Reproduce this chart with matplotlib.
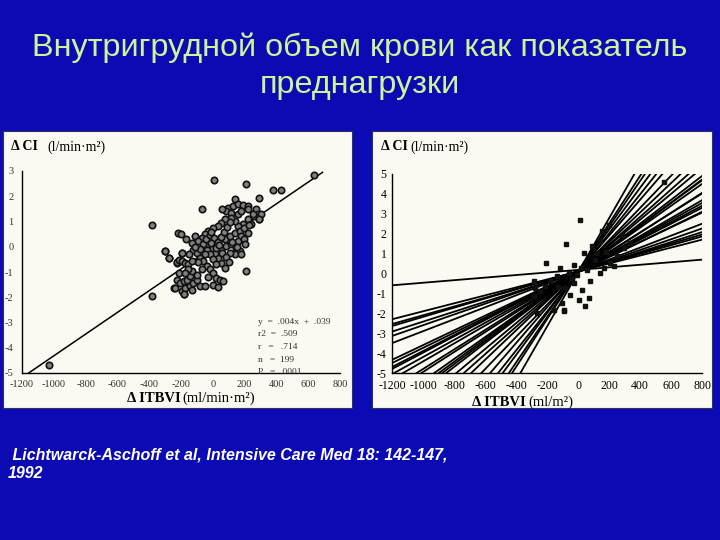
import numpy as np
import matplotlib.pyplot as plt
from matplotlib.patches import Rectangle

plt.rcParams['axes.unicode_minus'] = False

# --- data ---
title_lines = ["Внутригрудной объем крови как показатель", "преднагрузки"]
citation_lines = [" Lichtwarck-Aschoff et al, Intensive Care Med 18: 142-147,", "1992"]

left_xticks = [-1200, -1000, -800, -600, -400, -200, 0, 200, 400, 600, 800]
left_yticks = [-5, -4, -3, -2, -1, 0, 1, 2, 3]
right_xticks = [-1200, -1000, -800, -600, -400, -200, 0, 200, 400, 600, 800]
right_yticks = [-5, -4, -3, -2, -1, 0, 1, 2, 3, 4, 5]

# left panel: ITBVI change vs CI change (single pooled regression)
itbvi = [635, 8, 209, 381, 427, 292, 137, -66, -383, 209, -383, -1030, -303, -278,
         -220, -199, -195, -226, -247, -184,
         95, 126, 157, 188, 219, 85, 116, 157, 178, 219, 271, 282, 292, 261, 219, 188,
         157, 137, 116, 75, 54, 33, 2, -29, -50, -70, -112, -91, -132, -122, -101, -81,
         -60, -39, -19, 2, 23, 43, 64, 75, 54, 33, 12, -8, -29, -39, -19, 2, 23, 54, 85,
         116, 147, 168, 137, 106, 75, 106, 137, 168, 199, 178, 157, 199, 219,
         -298, -278, -226, -195, -215, -195, -174, -153, -215, -226, -205, -184, -164,
         -143, -132, -153, -174, -236, -195, -174, -143, -122, -101, -81, -50, -132, -184,
         -60, -40, -20, 10, 30, 50, 70, 90, -80, -50, -10, 20, 40, 60, 80, 100, -110, -90,
         -70, -30, 0, 30, -150, -170, 120, 150, 180, 200, 240, 250, -100, -130, -10, 110,
         300, 290, 230, 60]
delta_ci = [2.83, 2.65, 2.48, 2.26, 2.26, 1.95, 1.88, 1.48, 0.86, -0.97, -1.96, -4.68, -0.15, -0.46,
            0.56, 0.49, -0.24, -0.64, -1.63, -1.89,
            1.55, 1.62, 1.68, 1.64, 1.62, 1.42, 1.35, 1.28, 1.42, 1.48, 1.48, 1.28, 1.09, 1.22, 1.09, 0.89,
            0.82, 1.02, 1.15, 1.09, 0.95, 0.82, 0.75, 0.62, 0.49, 0.36, 0.42, 0.22, 0.16, -0.11, -0.24, -0.44,
            -0.57, -0.77, -0.90, -1.03, -1.23, -1.30, -1.36, -0.83, -0.64, -0.44, -0.24, -0.04, 0.09, -0.11, -0.30, -0.50, -0.70, -0.11, 0.03,
            0.09, -0.04, -0.17, -0.30, -0.24, 0.29, 0.42, 0.56, 0.62, 0.75, 0.42, 0.22, 0.29, 0.56,
            -0.15, -0.44, -0.61, -0.24, -0.53, -0.57, -0.64, -0.70, -1.03, -1.30, -1.43, -1.36, -1.30,
            -1.17, -0.97, -0.90, -1.03, -1.63, -1.76, -1.63, -1.56, -1.43, -1.30, -1.56, -1.56, -1.70, -1.89,
            0.10, 0.30, 0.45, 0.35, 0.20, 0.40, 0.60, 0.80, -0.10, -0.30, 0.15, -0.05, 0.05, -0.25, -0.40, -0.60, 0.00, -0.60,
            -0.90, -1.20, -1.50, -1.60, -0.30, 0.30, 0.20, 0.00, -0.30, 0.10, 0.90, 1.30, -1.10, -0.55, 0.60, 1.00,
            1.30, 1.10, 0.85, 1.50]
fit_slope = 0.0043
fit_intercept = -0.02
fit_x = [-1160, 690]
stats_lines = ["y  =  .004x  +  .039", "r2  =  .509", "r   =   .714", "n   =  199", "P   =  .0001"]

# right panel: individual patient regressions
line_slopes = [0.000645, 0.0020, 0.0022, 0.0023, 0.0025, 0.0027, 0.0030, 0.0037, 0.0038,
               0.0040, 0.0041, 0.0043, 0.0045, 0.0049, 0.0050, 0.0055, 0.0057, 0.0058,
               0.0060, 0.0065, 0.0069, 0.0074, 0.0081, 0.0090, 0.0098, 0.0105, 0.0114,
               0.0120, 0.0136]
line_intercepts = [0.18, 0.10, 0.10, 0.12, 0.08, 0.10, 0.10, 0.10, 0.06, 0.10, 0.12, 0.10, 0.08,
                   0.10, 0.05, 0.10, 0.12, 0.08, 0.10, 0.10, 0.08, 0.10, 0.05, 0.10, 0.05,
                   0.10, 0.08, 0.10, 0.05]
line_x = [-1200, 800]
pts_x = [10, -75, -204, -92, 4, 68, 26, -28, 79, -103, -157, -275, 144, 90, 36, 122, 197, 155,
         -28, -114, -61, -135, -179, -211, -243, -286, -82, -50, 47, 144, 165, 208, 251, 294,
         337, 284, 553, -286, -265, -92, -40, 20, 60, 110, -130, -5, 180, 230]
pts_y = [2.70, 1.48, 0.53, -1.82, -1.32, -1.23, -0.81, -0.48, -0.40, -1.48, -1.82, -0.73, 1.61,
         1.36, 1.03, 1.03, 2.45, 2.12, 0.44, 0.28, 0.02, -0.15, -0.40, -0.65, -0.90, -1.15, -0.73,
         -1.07, -1.65, 0.02, 0.28, 0.53, 0.86, 1.28, 1.53, 1.95, 4.60, -0.40, -1.98, -1.87, -0.30,
         0.30, 0.20, 0.70, -0.70, -0.10, 1.10, 0.40]

bg = '#0C0AB2'
panel = '#FAFAF2'
serif = 'Liberation Serif'

fig = plt.figure(figsize=(7.2, 5.4), dpi=100)
fig.patch.set_facecolor(bg)

def px(x, y):
    # pixel position (top-left origin) -> figure fraction
    return x / 720, 1 - y / 540

# white panels behind the two scanned graphs
for (x0, y0, x1, y1) in [(3, 131, 352, 408), (372, 131, 712, 408)]:
    fig.patches.append(Rectangle(px(x0, y1), (x1 - x0) / 720, (y1 - y0) / 540,
                                 transform=fig.transFigure, facecolor=panel,
                                 edgecolor='#333355', linewidth=0.8, zorder=-5))

# title
for i, line in enumerate(title_lines):
    fig.text(0.5, 1 - (56 + 37 * i) / 540, line, ha='center', va='baseline',
             fontsize=23.3, color='#CCF59A', family='Liberation Sans')

# citation
fig.text(*px(8, 460), citation_lines[0], ha='left', va='baseline', fontsize=11.5,
         color='white', family='Liberation Sans', weight='bold', style='italic')
fig.text(*px(8, 478), citation_lines[1], ha='left', va='baseline', fontsize=11.5,
         color='white', family='Liberation Sans', weight='bold', style='italic')

def style_axes(ax, xt, yt, fs, col):
    ax.set_facecolor('none')
    for s in ['top', 'right']:
        ax.spines[s].set_visible(False)
    for s in ['left', 'bottom']:
        ax.spines[s].set_linewidth(1.0)
        ax.spines[s].set_color('black')
    ax.set_xticks(xt)
    ax.set_yticks(yt)
    ax.tick_params(length=0, labelsize=fs, labelcolor=col)
    ax.tick_params(axis='x', pad=5)
    ax.tick_params(axis='y', pad=6)
    for lab in ax.get_xticklabels() + ax.get_yticklabels():
        lab.set_family(serif)

# --- left panel ---
ax1 = fig.add_axes([22 / 720, 1 - 373 / 540, 318 / 720, 202 / 540])
ax1.set_xlim(-1200, 800)
ax1.set_ylim(-5, 3)
fx = np.array(fit_x)
ax1.plot(fx, fit_slope * fx + fit_intercept, color='black', lw=1.1, zorder=2)
ax1.plot(itbvi, delta_ci, 'o', ms=4.6, mfc='#808080', mec='#111111', mew=1.2, zorder=3)
style_axes(ax1, left_xticks, left_yticks, 7.5, '#333333')
for i, s in enumerate(stats_lines):
    fig.text(*px(258, 322 + 12.5 * i), s, fontsize=6.8, family=serif, color='#333333',
             va='center', ha='left')

fig.text(*px(11, 147), 'Δ CI', fontsize=10, family=serif, weight='bold', va='center')
fig.text(*px(47, 147), '(l/min·m²)', fontsize=10, family=serif, va='center')
fig.text(*px(127, 398), 'Δ ITBVI', fontsize=10.5, family=serif, weight='bold', va='center')
fig.text(*px(182, 398), '(ml/min·m²)', fontsize=10.5, family=serif, va='center')

# --- right panel ---
ax2 = fig.add_axes([392 / 720, 1 - 373 / 540, 310 / 720, 199 / 540])
ax2.set_xlim(-1200, 800)
ax2.set_ylim(-5, 5)
lx = np.array(line_x)
for m, b in zip(line_slopes, line_intercepts):
    ax2.plot(lx, m * lx + b, color='black', lw=1.3, zorder=2)
ax2.plot(pts_x, pts_y, 's', ms=2.8, color='#111111', zorder=3)
style_axes(ax2, right_xticks, right_yticks, 8.5, 'black')
ax2.tick_params(axis='y', pad=4)

fig.text(*px(381, 147), 'Δ CI', fontsize=10, family=serif, weight='bold', va='center')
fig.text(*px(410, 147), '(l/min·m²)', fontsize=10, family=serif, va='center')
fig.text(*px(472, 402), 'Δ ITBVI', fontsize=10.5, family=serif, weight='bold', va='center')
fig.text(*px(528, 402), '(ml/m²)', fontsize=10.5, family=serif, va='center')

fig.savefig('out.png', dpi=100, facecolor=bg)
